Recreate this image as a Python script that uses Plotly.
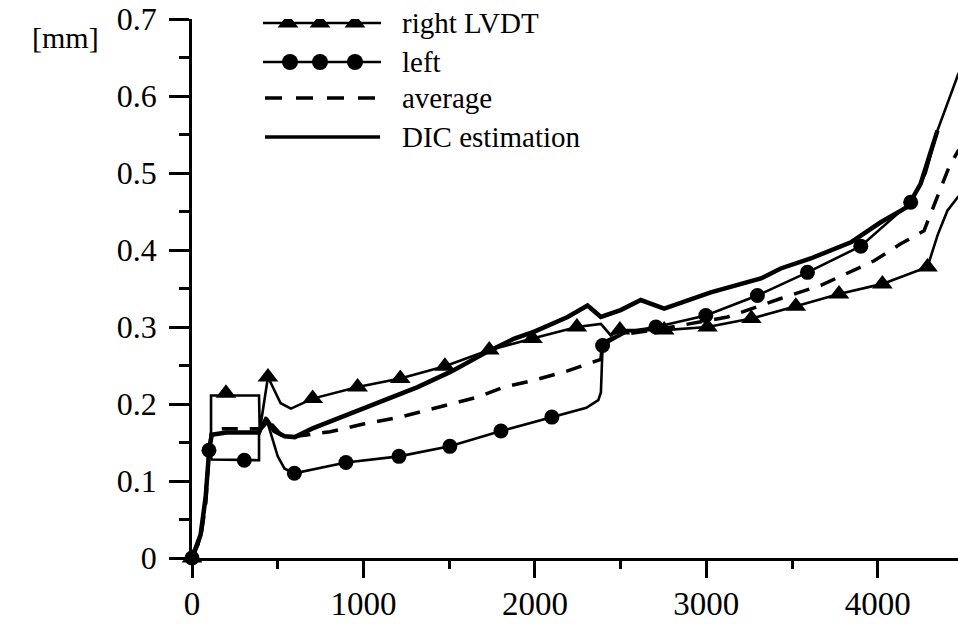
import plotly.graph_objects as go

# ---------------- data ----------------
right_x = [0, 40, 70, 95, 111, 111, 391, 395, 443, 517, 577, 704, 966, 1215, 1475, 1734, 1986,
           2245, 2385, 2443, 2496, 2754, 3007, 3263, 3522, 3774, 4027, 4290, 4350, 4406, 4472]
right_y = [0, 0.02, 0.06, 0.13, 0.16, 0.211, 0.211, 0.165, 0.235, 0.201, 0.194, 0.207, 0.222, 0.233, 0.249,
           0.270, 0.285, 0.300, 0.304, 0.289, 0.296, 0.296, 0.300, 0.311, 0.327, 0.343, 0.356, 0.378,
           0.42, 0.451, 0.47]
right_mx = [0, 198, 443, 704, 966, 1215, 1475, 1734, 1986, 2245, 2496, 2754, 3007, 3263, 3522, 3774, 4027, 4290]
right_my = [0, 0.214, 0.235, 0.207, 0.222, 0.233, 0.249, 0.270, 0.285, 0.300, 0.296, 0.296, 0.300, 0.311,
            0.327, 0.343, 0.356, 0.378]

left_x = [0, 40, 70, 90, 99, 115, 391, 391, 431, 500, 540, 597, 898, 1207, 1504, 1802, 2099, 2300, 2370,
          2385, 2395, 2540, 2706, 2997, 3298, 3590, 3901, 4192, 4280, 4348, 4472]
left_y = [0, 0.02, 0.06, 0.11, 0.14, 0.128, 0.127, 0.165, 0.183, 0.132, 0.116, 0.110, 0.124, 0.132, 0.145,
          0.165, 0.183, 0.195, 0.205, 0.215, 0.276, 0.294, 0.300, 0.315, 0.341, 0.371, 0.405, 0.462,
          0.50, 0.555, 0.63]
left_mx = [0, 99, 305, 597, 898, 1207, 1504, 1802, 2099, 2395, 2706, 2997, 3298, 3590, 3901, 4192]
left_my = [0, 0.14, 0.127, 0.110, 0.124, 0.132, 0.145, 0.165, 0.183, 0.276, 0.300, 0.315, 0.341, 0.371,
           0.405, 0.462]

avg_x = [0, 50, 80, 100, 115, 150, 391, 440, 520, 577, 806, 1000, 1215, 1452, 1666, 1821, 1997, 2191,
         2346, 2385, 2395, 2500, 2750, 3000, 3124, 3434, 3668, 3979, 4134, 4270, 4348, 4416, 4472]
avg_y = [0, 0.025, 0.07, 0.14, 0.165, 0.168, 0.168, 0.18, 0.16, 0.157, 0.164, 0.174, 0.183, 0.197, 0.209,
         0.222, 0.231, 0.243, 0.255, 0.258, 0.28, 0.29, 0.298, 0.308, 0.313, 0.337, 0.354, 0.386, 0.408,
         0.425, 0.469, 0.508, 0.53]

dic_x = [0, 50, 80, 100, 115, 200, 391, 400, 440, 480, 540, 600, 700, 869, 1024, 1316, 1510, 1724, 1880,
         1997, 2191, 2307, 2385, 2500, 2618, 2754, 3026, 3318, 3434, 3609, 3843, 4017, 4173, 4250, 4348]
dic_y = [0, 0.03, 0.08, 0.14, 0.16, 0.163, 0.163, 0.168, 0.178, 0.165, 0.158, 0.157, 0.168, 0.183, 0.196,
         0.222, 0.242, 0.268, 0.285, 0.294, 0.313, 0.328, 0.313, 0.322, 0.335, 0.324, 0.345, 0.363, 0.376,
         0.389, 0.410, 0.436, 0.456, 0.486, 0.555]

legend_labels = ["right LVDT", "left", "average", "DIC estimation"]
x_ticks = [0, 1000, 2000, 3000, 4000]
y_ticks = [0, 0.1, 0.2, 0.3, 0.4, 0.5, 0.6, 0.7]

FONT = "Liberation Serif, Times New Roman, serif"
BLACK = "#000000"
THIN = 2.6

fig = go.Figure()

# data lines
fig.add_trace(go.Scatter(x=right_x, y=right_y, mode="lines", line=dict(color=BLACK, width=THIN)))
fig.add_trace(go.Scatter(x=left_x, y=left_y, mode="lines", line=dict(color=BLACK, width=THIN)))
fig.add_trace(go.Scatter(x=avg_x, y=avg_y, mode="lines", line=dict(color=BLACK, width=3.5, dash="16px,12px")))
fig.add_trace(go.Scatter(x=dic_x, y=dic_y, mode="lines", line=dict(color=BLACK, width=4.5)))
fig.add_trace(go.Scatter(x=right_mx, y=right_my, mode="markers", cliponaxis=False,
                         marker=dict(symbol="triangle-up", size=18, color=BLACK)))
fig.add_trace(go.Scatter(x=left_mx, y=left_my, mode="markers", cliponaxis=False,
                         marker=dict(symbol="circle", size=15, color=BLACK)))

# legend drawn on a pixel-like overlay axis
rows = [23, 62, 98, 137]
lx0, lx1 = 263, 381
fig.add_trace(go.Scatter(x=[lx0, lx1], y=[rows[0]] * 2, mode="lines", line=dict(color=BLACK, width=THIN),
                         xaxis="x2", yaxis="y2"))
fig.add_trace(go.Scatter(x=[288, 320, 355], y=[rows[0]] * 3, mode="markers",
                         marker=dict(symbol="triangle-up", size=18, color=BLACK), xaxis="x2", yaxis="y2"))
fig.add_trace(go.Scatter(x=[lx0, lx1], y=[rows[1]] * 2, mode="lines", line=dict(color=BLACK, width=THIN),
                         xaxis="x2", yaxis="y2"))
fig.add_trace(go.Scatter(x=[290, 320, 355], y=[rows[1]] * 3, mode="markers",
                         marker=dict(symbol="circle", size=16, color=BLACK), xaxis="x2", yaxis="y2"))
fig.add_trace(go.Scatter(x=[265, 378], y=[rows[2]] * 2, mode="lines",
                         line=dict(color=BLACK, width=3.5, dash="17px,14px"), xaxis="x2", yaxis="y2"))
fig.add_trace(go.Scatter(x=[265, 380], y=[rows[3]] * 2, mode="lines", line=dict(color=BLACK, width=3.5),
                         xaxis="x2", yaxis="y2"))

for lab, ry in zip(legend_labels, rows):
    fig.add_annotation(x=400, y=ry, xref="x2", yref="y2", text=lab, showarrow=False,
                       xanchor="left", yanchor="middle", font=dict(family=FONT, size=29, color=BLACK))

fig.add_annotation(x=(101 - 192) / 766, y=(558.3 - 38) / 539.3, xref="paper", yref="paper", text="[mm]",
                   showarrow=False, xanchor="right", yanchor="middle",
                   font=dict(family=FONT, size=30, color=BLACK))

fig.update_layout(
    width=958, height=624,
    margin=dict(l=192, r=0, t=19, b=66),
    paper_bgcolor="white", plot_bgcolor="white",
    showlegend=False,
    font=dict(family=FONT, size=30, color=BLACK),
    xaxis=dict(range=[0, 4468], tickvals=x_ticks, ticktext=[str(v) for v in x_ticks],
               showgrid=False, zeroline=False, showline=True, linecolor=BLACK, linewidth=2.5,
               ticks="outside", ticklen=17, tickwidth=2.5, tickcolor=BLACK,
               minor=dict(dtick=500, ticks="outside", ticklen=8, tickwidth=2.5, tickcolor=BLACK),
               tickfont=dict(family=FONT, size=33, color=BLACK), ticklabelstandoff=-2),
    yaxis=dict(range=[0, 0.7], tickvals=y_ticks, ticktext=["0", "0.1", "0.2", "0.3", "0.4", "0.5", "0.6", "0.7"],
               showgrid=False, zeroline=False, showline=True, linecolor=BLACK, linewidth=2.5,
               ticks="outside", ticklen=20, tickwidth=2.5, tickcolor=BLACK,
               minor=dict(dtick=0.05, ticks="outside", ticklen=10, tickwidth=2.5, tickcolor=BLACK),
               tickfont=dict(family=FONT, size=32, color=BLACK), ticklabelstandoff=6),
    xaxis2=dict(overlaying="x", range=[192, 958], visible=False, anchor="y2"),
    yaxis2=dict(overlaying="y", range=[558.3, 19], visible=False, anchor="x2"),
)

fig.write_html("out.html")
